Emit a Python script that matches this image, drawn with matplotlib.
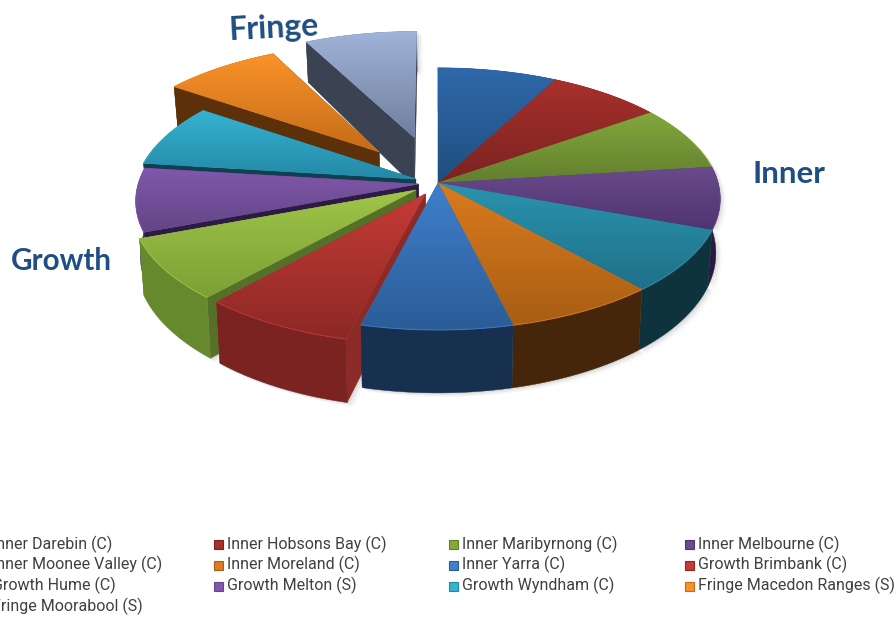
import numpy as np
import matplotlib
matplotlib.use('Agg')
import matplotlib.pyplot as plt
from matplotlib.patches import Polygon, Rectangle
from matplotlib.colors import to_rgb

names = ['Inner Darebin (C)', 'Inner Hobsons Bay (C)', 'Inner Maribyrnong (C)', 'Inner Melbourne (C)',
         'Inner Moonee Valley (C)', 'Inner Moreland (C)', 'Inner Yarra (C)', 'Growth Brimbank (C)',
         'Growth Hume (C)', 'Growth Melton (S)', 'Growth Wyndham (C)', 'Fringe Macedon Ranges (S)',
         'Fringe Moorabool (S)']
values = [7.7, 7.4, 7.9, 7.7, 7.8, 7.7, 7.7, 7.7, 7.6, 7.8, 7.7, 7.8, 7.5]
explode = [0, 0, 0, 0, 0, 0, 0, 0.095, 0.095, 0.07, 0.085, 0.33, 0.38]

top_light = ['#2F67A8', '#A8302C', '#83A83C', '#6A4A8C', '#2A93AE', '#DB7B1E', '#3F7FCB',
             '#C53B36', '#9FC548', '#8058AC', '#36B2D2', '#F99229', '#A0B3D8']
top_dark = ['#1F4F80', '#7A2320', '#627F2E', '#4E3570', '#1F7088', '#A85E14', '#2B5C98',
            '#8C2825', '#7DA035', '#634684', '#2389A6', '#C46C18', '#6F7F9E']
rim_col = ['#17304F', '#4F1715', '#3F521E', '#2B1A3F', '#0E333D', '#45260A', '#17304F',
           '#7A2320', '#66892D', '#4A3366', '#10404F', '#5C3009', '#3B4252']
cut_col = ['#17304F', '#4F1715', '#3F521E', '#2E1B45', '#0E333D', '#45260A', '#17304F',
           '#8C2A27', '#56702A', '#2E1B45', '#10404F', '#5C3009', '#3B4252']

# projection of the pie plane onto the picture
cx, cy = 438, 183
a, b, k = 129, 280, 0.122


def project(X, Y, lower=False):
    s = 1 / (1 - k * Y)
    sx = b * X * s
    sy = a * Y * s
    if lower:
        return cx + sx * 0.985, cy + sy + 53 + 10 * Y
    return cx + sx, cy + sy


def gradient(ax, poly, c1, c2, z):
    xy = poly.get_xy()
    g = np.linspace(to_rgb(c1), to_rgb(c2), 64).reshape(64, 1, 3)
    im = ax.imshow(g, extent=(xy[:, 0].min(), xy[:, 0].max(), xy[:, 1].max(), xy[:, 1].min()),
                   aspect='auto', interpolation='bilinear', zorder=z)
    poly.set_transform(ax.transData)
    im.set_clip_path(poly)


fig = plt.figure(figsize=(8.96, 6.17), dpi=100)
ax = fig.add_axes([0, 0, 1, 1])
ax.axis('off')

edges = np.cumsum([0] + values) / sum(values) * 2 * np.pi
mids = (edges[:-1] + edges[1:]) / 2
off_x = np.array(explode) * np.sin(mids)
off_y = -np.array(explode) * np.cos(mids)
order = np.argsort(off_y - np.cos(mids))

z = 2
for i in order:
    t = np.linspace(edges[i], edges[i + 1], 40)
    X = off_x[i] + np.sin(t)
    Y = off_y[i] - np.cos(t)
    tx, ty = project(X, Y)
    bx, by = project(X, Y, True)
    ax0, ay0 = project(off_x[i], off_y[i])
    bx0, by0 = project(off_x[i], off_y[i], True)

    # soft shadow under the slice
    for d, al in [(2, 0.10), (4, 0.07), (6, 0.04)]:
        sh = np.column_stack([np.r_[tx, bx[::-1], bx0] + d, np.r_[ty, by[::-1], by0] + d * 0.7])
        ax.add_patch(Polygon(sh, fc='#555555', ec='none', alpha=al, zorder=1 if explode[i] < 0.3 else z))
    z += 1

    # cut faces only show on the pulled out slices
    if explode[i] > 0:
        for j in [0, -1]:
            q = [(ax0, ay0), (tx[j], ty[j]), (bx[j], by[j]), (bx0, by0)]
            ax.add_patch(Polygon(q, fc=cut_col[i], ec=cut_col[i], lw=0.3, zorder=z))
    rim = np.column_stack([np.r_[tx, bx[::-1]], np.r_[ty, by[::-1]]])
    ax.add_patch(Polygon(rim, fc=rim_col[i], ec=rim_col[i], lw=0.3, zorder=z))
    z += 1
    top_xy = np.column_stack([np.r_[ax0, tx], np.r_[ay0, ty]])
    mean_col = (np.array(to_rgb(top_light[i])) + np.array(to_rgb(top_dark[i]))) / 2
    ax.add_patch(Polygon(top_xy, fc=mean_col, ec=mean_col, lw=0.4, zorder=z))
    z += 1
    top = Polygon(top_xy, fc='none', ec='none')
    ax.add_patch(top)
    gradient(ax, top, top_light[i], top_dark[i], z)
    ax.plot(tx, ty, color=top_light[i], lw=0.8, alpha=0.7, zorder=z + 1)
    z += 2

# group labels
ax.text(274, 28, 'Fringe', fontsize=23, fontweight='bold', color='#1F4E84', family='Lato',
        ha='center', va='center', rotation=3, zorder=z)
ax.text(789, 174, 'Inner', fontsize=22.5, fontweight='bold', color='#1F4E84', family='Lato',
        ha='center', va='center', zorder=z)
ax.text(61, 261, 'Growth', fontsize=21.3, fontweight='bold', color='#1F4E84', family='Lato',
        ha='center', va='center', zorder=z)

# legend, filled row by row
for n, name in enumerate(names):
    col, row = n % 4, n // 4
    lx = -22 + col * 235.5
    ly = 544 + row * 20.8
    ax.add_patch(Rectangle((lx, ly - 4), 9, 9, fc=top_light[n], ec=top_dark[n], lw=0.8, zorder=z))
    ax.text(lx + 13.5, ly, name, fontsize=11.5, color='#404040', family='Roboto',
            ha='left', va='center', zorder=z)

ax.set_xlim(0, 896)
ax.set_ylim(617, 0)
fig.savefig('out.png', dpi=100)
